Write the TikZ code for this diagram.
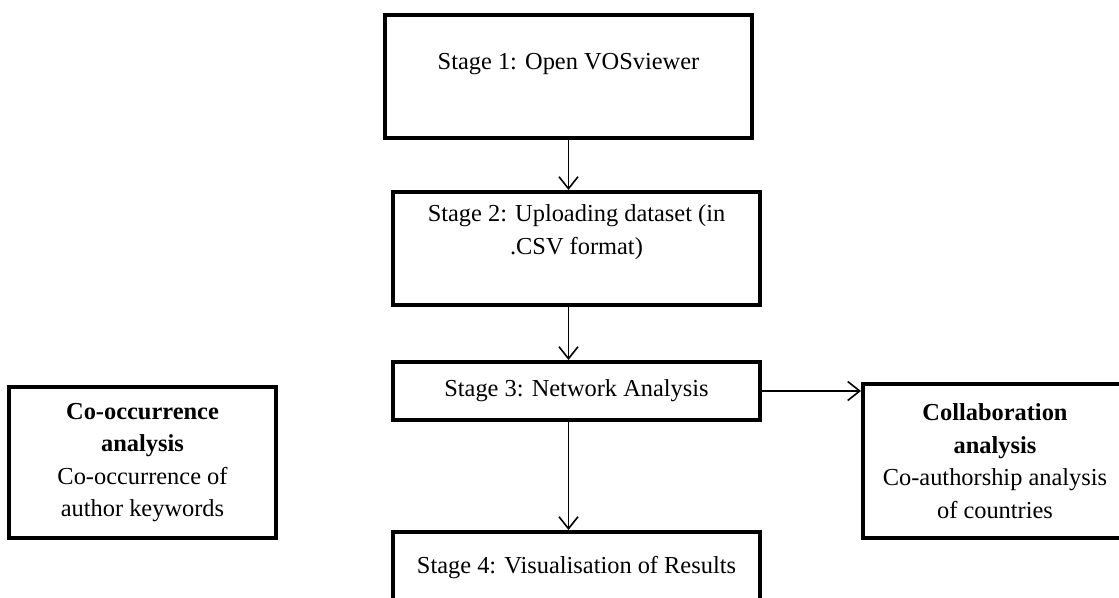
\documentclass[tikz,border=0pt]{standalone}
\usepackage{fontspec}
\setmainfont{Liberation Serif}
\usetikzlibrary{arrows.meta}
\tikzset{
  stagebox/.style={draw=black, line width=4pt, fill=white, inner sep=0pt, align=center},
  txt/.style={inner sep=0pt, align=center, font=\fontsize{24.4pt}{32.5pt}\selectfont},
  arr/.style={draw=black, line width=1.4pt, -{Straight Barb[length=12pt,width=19pt,line width=1.6pt]}}
}
\begin{document}
\begin{tikzpicture}[x=1pt,y=-1pt]
\useasboundingbox (0,0) rectangle (1119,597);
\clip (0,0) rectangle (1119,597);
\fill[white] (0,0) rectangle (1119,597);
% Stage boxes
\node[stagebox, minimum width=367pt, minimum height=123pt] (s1) at (568.5,76.5) {};
\node[txt] (t1) at (568.5,64) {Stage 1: Open VOSviewer};
\node[stagebox, minimum width=367pt, minimum height=113pt] (s2) at (576.5,248.5) {};
\node[txt] (t2) at (576.5,232) {Stage 2: Uploading dataset (in\\.CSV format)};
\node[stagebox, txt, draw, line width=4pt, minimum width=367pt, minimum height=58pt] (s3) at (576.5,391) {Stage 3: Network Analysis};
\node[stagebox, txt, draw, line width=4pt, minimum width=367pt, minimum height=72pt] (s4) at (576.5,568) {Stage 4: Visualisation of Results};
% Side boxes
\node[stagebox, txt, draw, line width=4pt, minimum width=267pt, minimum height=151pt] (co) at (142.5,462.5)
  {\textbf{Co-occurrence}\\\textbf{analysis}\\Co-occurrence of\\author keywords};
\node[stagebox, txt, draw, line width=4pt, minimum width=264pt, minimum height=154pt] (cb) at (995,461)
  {\textbf{Collaboration}\\\textbf{analysis}\\Co-authorship analysis\\of countries};
% Connectors
\draw[arr] (s1.south) -- (s1.south |- s2.north);
\draw[arr] (s1.south |- s2.south) -- (s1.south |- s3.north);
\draw[arr] (s1.south |- s3.south) -- (s1.south |- s4.north);
\draw[arr] (s3.east) -- (s3.east -| cb.west);
\end{tikzpicture}
\end{document}
